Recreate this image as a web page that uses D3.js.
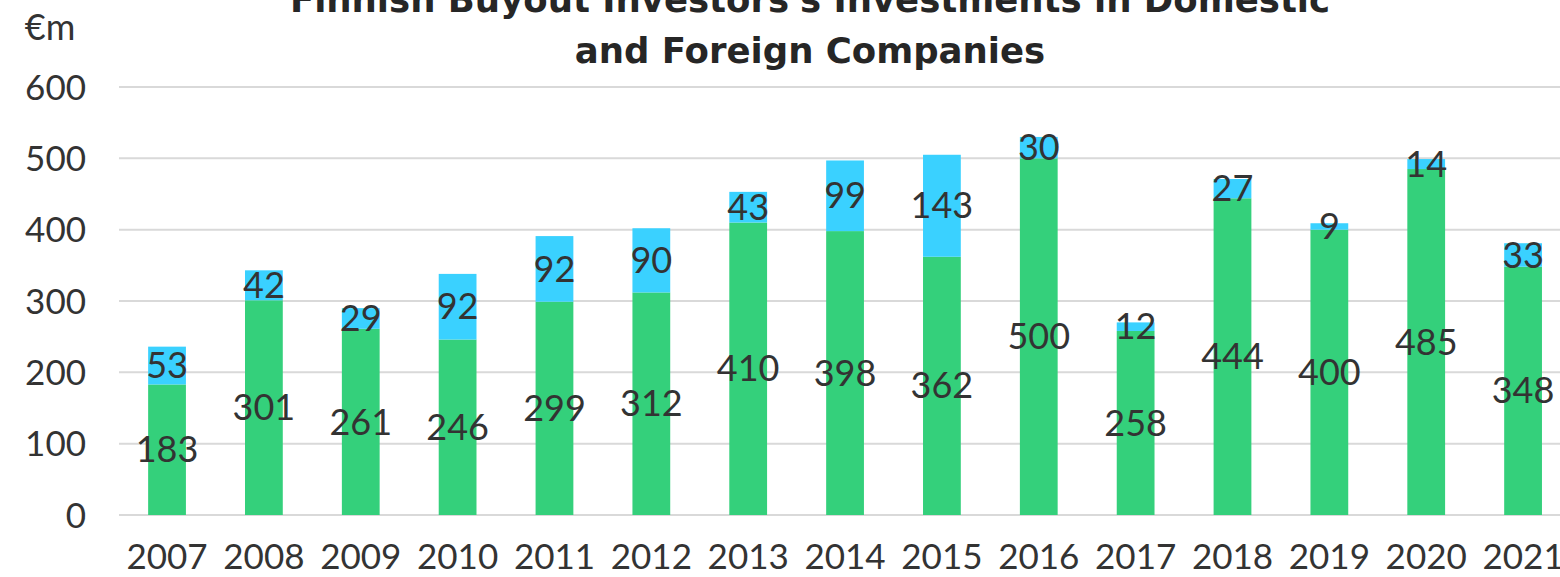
<!DOCTYPE html>
<html>
<head>
<meta charset="utf-8">
<script src="https://cdn.jsdelivr.net/npm/d3@7"></script>
<style>
  body { margin: 0; background: #fff; }
  svg { display: block; font-family: "Lato", "Noto Sans", sans-serif; }
</style>
</head>
<body>
<div id="chart"></div>
<script>
// data
var years = ["2007","2008","2009","2010","2011","2012","2013","2014","2015","2016","2017","2018","2019","2020","2021"];
var domestic = [183, 301, 261, 246, 299, 312, 410, 398, 362, 500, 258, 444, 400, 485, 348];
var foreign = [53, 42, 29, 92, 92, 90, 43, 99, 143, 30, 12, 27, 9, 14, 33];
var yTicks = [0, 100, 200, 300, 400, 500, 600];

var w = 1560;
var h = 577;

var green = "#34d07b";
var blue = "#3ad1ff";
var textColor = "#333333";

var svg = d3.select("#chart").append("svg")
  .attr("width", w)
  .attr("height", h);

// x band extends past the right edge, like the original crop
var x = d3.scaleBand()
  .domain(years)
  .range([118.6, 1571.5])
  .paddingInner(0.61)
  .paddingOuter(0.305);

var y = d3.scaleLinear()
  .domain([0, 600])
  .range([515, 87]);

// gridlines
svg.append("g")
  .selectAll("line")
  .data(yTicks)
  .enter()
  .append("line")
  .attr("x1", 119)
  .attr("x2", w)
  .attr("y1", function(d) { return y(d); })
  .attr("y2", function(d) { return y(d); })
  .attr("stroke", "#d9d9d9")
  .attr("stroke-width", 2);

// y axis labels
var yAxis = d3.axisLeft(y).tickValues(yTicks).tickSize(0).tickPadding(0);
var gy = svg.append("g")
  .attr("transform", "translate(86,0)")
  .call(yAxis);
gy.select(".domain").remove();
gy.selectAll("text")
  .attr("font-size", 35)
  .attr("font-family", "Lato, 'Noto Sans', sans-serif")
  .attr("fill", textColor)
  .attr("dy", "0.35em");

// x axis labels
var xAxis = d3.axisBottom(x).tickSize(0).tickPadding(0);
var gx = svg.append("g")
  .attr("transform", "translate(0,543)")
  .call(xAxis);
gx.select(".domain").remove();
gx.selectAll("text")
  .attr("font-size", 35)
  .attr("font-family", "Lato, 'Noto Sans', sans-serif")
  .attr("fill", textColor)
  .attr("dy", "0.75em");

var rows = years.map(function(yr, i) {
  return { year: yr, dom: domestic[i], fgn: foreign[i] };
});

// domestic bars
svg.append("g")
  .selectAll("rect")
  .data(rows)
  .enter()
  .append("rect")
  .attr("x", function(d) { return x(d.year); })
  .attr("width", x.bandwidth())
  .attr("y", function(d) { return y(d.dom); })
  .attr("height", function(d) { return y(0) - y(d.dom); })
  .attr("fill", green);

// foreign bars stacked on top
svg.append("g")
  .selectAll("rect")
  .data(rows)
  .enter()
  .append("rect")
  .attr("x", function(d) { return x(d.year); })
  .attr("width", x.bandwidth())
  .attr("y", function(d) { return y(d.dom + d.fgn); })
  .attr("height", function(d) { return y(d.dom) - y(d.dom + d.fgn); })
  .attr("fill", blue);

// value labels
svg.append("g")
  .selectAll("text")
  .data(rows)
  .enter()
  .append("text")
  .attr("x", function(d) { return x(d.year) + x.bandwidth() / 2; })
  .attr("y", function(d) { return y(d.dom / 2); })
  .attr("dy", "0.35em")
  .attr("text-anchor", "middle")
  .attr("font-size", 36)
  .attr("fill", textColor)
  .text(function(d) { return d.dom; });

svg.append("g")
  .selectAll("text")
  .data(rows)
  .enter()
  .append("text")
  .attr("x", function(d) { return x(d.year) + x.bandwidth() / 2; })
  .attr("y", function(d) { return y(d.dom + d.fgn / 2); })
  .attr("dy", "0.35em")
  .attr("text-anchor", "middle")
  .attr("font-size", 36)
  .attr("fill", textColor)
  .text(function(d) { return d.fgn; });

// unit label
svg.append("text")
  .attr("x", 50)
  .attr("y", 40)
  .attr("text-anchor", "middle")
  .attr("font-size", 36)
  .attr("fill", textColor)
  .text("€m");

// title (top line is cut off by the frame)
var title = svg.append("text")
  .attr("x", 810)
  .attr("text-anchor", "middle")
  .attr("font-size", 35.5)
  .attr("font-family", "'DejaVu Sans', sans-serif")
  .attr("font-weight", "bold")
  .attr("fill", "#262626");
title.append("tspan").attr("x", 810).attr("y", 12).text("Finnish Buyout Investors's Investments in Domestic");
title.append("tspan").attr("x", 810).attr("y", 63).text("and Foreign Companies");
</script>
</body>
</html>
